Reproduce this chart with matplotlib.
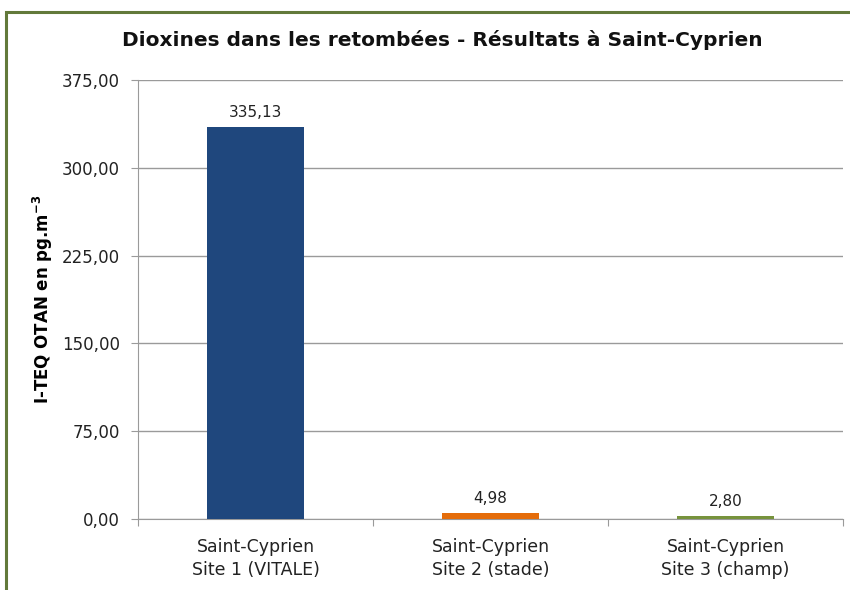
import matplotlib.pyplot as plt
from matplotlib.patches import Rectangle

# valeurs mesurées (I-TEQ OTAN, pg.m-3)
sites = ['Saint-Cyprien\nSite 1 (VITALE)', 'Saint-Cyprien\nSite 2 (stade)', 'Saint-Cyprien\nSite 3 (champ)']
valeurs = [335.13, 4.98, 2.80]
couleurs = ['#1F477D', '#E46C0A', '#77933C']
graduations = [0, 75, 150, 225, 300, 375]


def fr(v):
    return f'{v:.2f}'.replace('.', ',')


plt.rcParams['font.family'] = ['DejaVu Sans']
fig = plt.figure(figsize=(8.5, 5.9), dpi=100)
ax = fig.add_axes([0.1624, 0.1203, 0.8294, 0.7441])

# cadre vert autour du graphique
fig.patches.append(Rectangle((6 / 850, -0.05), 1.2, 1 - 12 / 590 + 0.05,
                             transform=fig.transFigure, fill=False,
                             edgecolor='#62793A', linewidth=2.2))

x = range(len(sites))
ax.bar(x, valeurs, width=0.41, color=couleurs, zorder=3)
for xi, v in zip(x, valeurs):
    ax.annotate(fr(v), (xi, v), xytext=(0, 5), textcoords='offset points',
                ha='center', va='bottom', fontsize=11, color='#222222')

ax.set_xlim(-0.5, 2.5)
ax.set_ylim(0, 375)
ax.set_yticks(graduations)
ax.set_yticklabels([fr(g) for g in graduations], fontsize=12, color='#222222')
ax.yaxis.grid(True, color='#9A9A9A', linewidth=1, zorder=0)
ax.tick_params(axis='y', length=5, color='#9A9A9A', pad=8)

# séparateurs de catégories sur l'axe x
ax.set_xticks([-0.5, 0.5, 1.5, 2.5])
ax.set_xticklabels([])
ax.set_xticks(list(x), minor=True)
ax.set_xticklabels(sites, minor=True, fontsize=12.5, color='#222222', linespacing=1.35)
ax.tick_params(axis='x', which='minor', length=0, pad=14)
ax.tick_params(axis='x', which='major', length=5, color='#9A9A9A')

for s in ['top', 'right']:
    ax.spines[s].set_visible(False)
ax.spines['left'].set_color('#9A9A9A')
ax.spines['bottom'].set_color('#9A9A9A')

ax.set_ylabel('I-TEQ OTAN en pg.m$^{\\mathregular{-3}}$', fontsize=12,
              fontweight='bold', labelpad=5)
fig.text(0.52, 1 - 40 / 590, 'Dioxines dans les retombées - Résultats à Saint-Cyprien',
         ha='center', va='center', fontsize=14.5, fontweight='bold', color='#111111')

fig.savefig('out.png', dpi=100)
